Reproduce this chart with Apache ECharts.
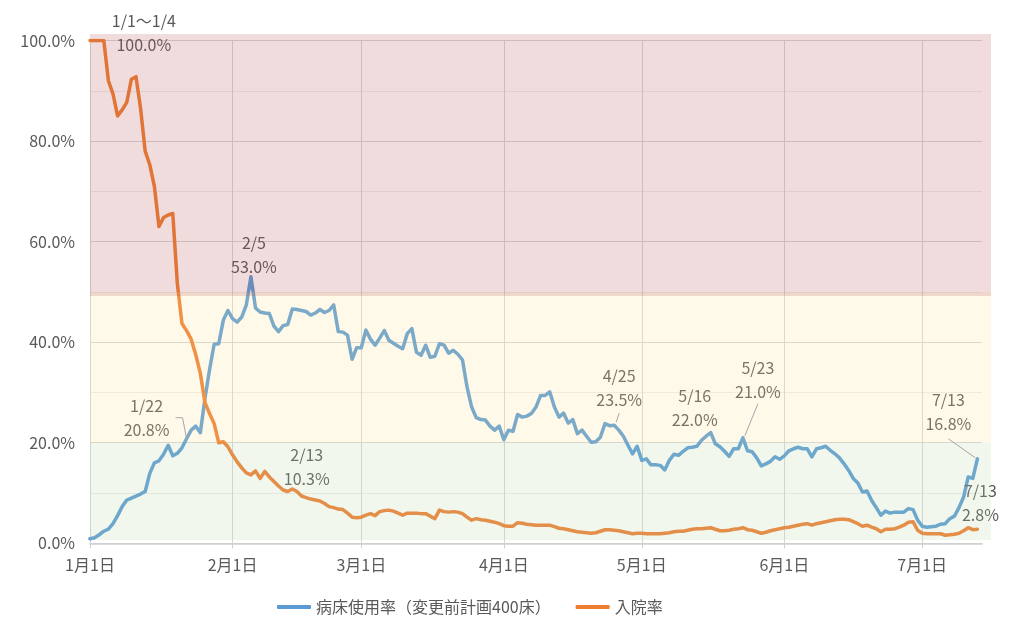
<!DOCTYPE html>
<html lang="ja">
<head>
<meta charset="utf-8">
<title>病床使用率・入院率</title>
<script src="https://cdn.jsdelivr.net/npm/echarts@6/dist/echarts.min.js"></script>
<style>
  html, body { margin: 0; padding: 0; background: #fff; }
  #chart { width: 1018px; height: 620px; }
</style>
</head>
<body>
<div id="chart"></div>
<script>
(function () {
  // categories: 1月1日 .. 7月14日 (one per day)
  const MONTH_DAYS = [31, 28, 31, 30, 31, 30, 14]
  const dates = []
  MONTH_DAYS.forEach((n, m) => {
    for (let d = 1; d <= n; d++) dates.push(`${m + 1}月${d}日`)
  })

  // 病床使用率（変更前計画400床）, % per day
  const bedJan = [0.9, 1.1, 1.7, 2.4, 2.8, 3.9, 5.5, 7.3, 8.6, 9.0, 9.4, 9.8, 10.3, 13.9, 16.0, 16.4,
    17.7, 19.5, 17.4, 17.9, 19.0, 20.8, 22.5, 23.3, 22.0, 28.8, 34.5, 39.6, 39.7, 44.4, 46.3]
  const bedFeb = [44.7, 44.0, 45.0, 47.4, 53.0, 46.8, 46.0, 45.8, 45.7, 43.2, 42.1, 43.3, 43.5, 46.6,
    46.5, 46.3, 46.1, 45.4, 45.8, 46.5, 45.9, 46.3, 47.4, 42.1, 42.0, 41.4, 36.6, 38.9]
  const bedMar = [38.9, 42.4, 40.6, 39.4, 40.8, 42.3, 40.4, 39.8, 39.2, 38.7, 41.7, 42.7, 38.0, 37.4,
    39.4, 37.0, 37.2, 39.7, 39.4, 37.8, 38.4, 37.6, 36.5, 31.1, 27.1, 25.0, 24.6, 24.5, 23.3, 22.5, 23.3]
  const bedApr = [20.6, 22.5, 22.3, 25.6, 25.1, 25.3, 25.8, 27.1, 29.4, 29.4, 30.1, 27.1, 25.1, 25.9,
    23.9, 24.6, 21.8, 22.5, 21.3, 20.1, 20.2, 21.1, 23.8, 23.4, 23.5, 22.5, 21.3, 19.5, 17.8, 19.3]
  const bedMay = [16.5, 16.8, 15.6, 15.6, 15.5, 14.6, 16.5, 17.7, 17.5, 18.3, 19.0, 19.1, 19.3, 20.5,
    21.3, 22.0, 19.8, 19.2, 18.3, 17.3, 18.8, 18.8, 21.0, 18.4, 18.2, 17.0, 15.4, 15.8, 16.3, 17.2, 16.7]
  const bedJun = [17.4, 18.4, 18.8, 19.1, 18.8, 18.8, 17.2, 18.8, 19.0, 19.3, 18.5, 17.8, 17.0, 15.8,
    14.5, 12.9, 12.0, 10.2, 10.4, 8.5, 7.1, 5.6, 6.4, 6.0, 6.2, 6.2, 6.2, 6.9, 6.7, 4.6]
  const bedJul = [3.4, 3.2, 3.3, 3.4, 3.8, 3.9, 4.9, 5.4, 7.1, 9.2, 13.2, 12.9, 16.8]

  // 入院率, % per day
  const admitJan = [100, 100, 100, 100, 92.0, 89.4, 85.0, 86.2, 87.7, 92.3, 92.8, 86.5, 78.0, 75.3,
    71.0, 63.0, 64.8, 65.3, 65.6, 51.6, 43.7, 42.3, 40.6, 37.5, 33.8, 28.0, 25.8, 23.8, 20.0, 20.2, 19.2]
  const admitFeb = [17.6, 16.2, 15.0, 14.0, 13.6, 14.4, 12.9, 14.3, 13.2, 12.3, 11.4, 10.6, 10.3, 10.8,
    10.3, 9.4, 9.1, 8.8, 8.6, 8.4, 7.9, 7.3, 7.1, 6.8, 6.7, 6.0, 5.2, 5.1]
  const admitMar = [5.2, 5.6, 5.9, 5.5, 6.3, 6.5, 6.6, 6.4, 6.0, 5.6, 6.0, 6.0, 6.0, 5.9, 5.9, 5.4,
    4.9, 6.6, 6.3, 6.2, 6.3, 6.2, 5.9, 5.2, 4.6, 4.9, 4.7, 4.6, 4.4, 4.2, 3.9]
  const admitApr = [3.5, 3.4, 3.4, 4.1, 4.0, 3.8, 3.7, 3.6, 3.6, 3.6, 3.6, 3.3, 3.0, 2.9, 2.7, 2.5,
    2.3, 2.2, 2.1, 2.0, 2.1, 2.4, 2.7, 2.7, 2.6, 2.5, 2.3, 2.1, 1.9, 2.0]
  const admitMay = [2.0, 1.9, 1.9, 1.9, 1.9, 2.0, 2.1, 2.3, 2.4, 2.4, 2.6, 2.8, 2.9, 2.9, 3.0, 3.1,
    2.8, 2.5, 2.5, 2.6, 2.8, 2.9, 3.1, 2.7, 2.6, 2.3, 2.0, 2.2, 2.5, 2.7, 2.9]
  const admitJun = [3.1, 3.2, 3.4, 3.6, 3.8, 3.9, 3.6, 3.9, 4.1, 4.3, 4.5, 4.7, 4.8, 4.8, 4.7, 4.3,
    3.9, 3.4, 3.6, 3.2, 2.9, 2.3, 2.8, 2.8, 2.9, 3.2, 3.6, 4.2, 4.3, 2.6]
  const admitJul = [2.0, 1.9, 1.9, 1.9, 1.9, 1.6, 1.7, 1.8, 2.0, 2.5, 3.1, 2.7, 2.8]

  const bedRate = [].concat(bedJan, bedFeb, bedMar, bedApr, bedMay, bedJun, bedJul)
  const admitRate = [].concat(admitJan, admitFeb, admitMar, admitApr, admitMay, admitJun, admitJul)

  const seriesNames = ['病床使用率（変更前計画400床）', '入院率']

  // y axis ticks and alert bands (%)
  const yMax = 100
  const yStep = 20
  const bandGreenTop = 20
  const bandYellowTop = 50
  const bandRedBottom = 49.2

  // data labels: series index, date, text
  const notes = [
    { series: 1, date: '1月4日', text: '1/1〜1/4\n100.0%' },
    { series: 0, date: '1月22日', text: '1/22\n20.8%' },
    { series: 0, date: '2月5日', text: '2/5\n53.0%' },
    { series: 1, date: '2月13日', text: '2/13\n10.3%' },
    { series: 0, date: '4月25日', text: '4/25\n23.5%' },
    { series: 0, date: '5月16日', text: '5/16\n22.0%' },
    { series: 0, date: '5月23日', text: '5/23\n21.0%' },
    { series: 0, date: '7月13日', text: '7/13\n16.8%' },
    { series: 1, date: '7月13日', text: '7/13\n2.8%' }
  ]
  // label offsets from the point (px), and leader line points relative to the point
  const noteLayout = [
    { dx: 40, dy: -8 },
    { dx: -40, dy: -21, leader: [[-11, -21], [-4, -21], [0, 0]] },
    { dx: 3, dy: -22 },
    { dx: 19, dy: -25 },
    { dx: 5, dy: -37, leader: [[5, -12], [2, -3]] },
    { dx: -16, dy: -25 },
    { dx: 15, dy: -58, leader: [[15, -34], [2, -2]] },
    { dx: -29, dy: -47, leader: [[-29, -20], [-2, -1]] },
    { dx: 3, dy: -26 }
  ]

  const FONT = "'Noto Sans CJK JP', 'Noto Sans', sans-serif"
  const TEXT_COLOR = '#595959'
  const BLUE = '#5b9bd5'
  const ORANGE = '#ed7d31'
  const seriesValues = [bedRate, admitRate]

  function findNote(seriesIndex, dataIndex) {
    return notes.findIndex((n) => n.series === seriesIndex && dates.indexOf(n.date) === dataIndex)
  }

  function withNotes(values, seriesIndex) {
    return values.map((v, i) => {
      const k = findNote(seriesIndex, i)
      if (k < 0) {
        return v
      }
      return {
        value: v,
        label: { show: true, formatter: notes[k].text }
      }
    })
  }

  const isMonthStart = (index, value) => /月1日$/.test(value)

  function lineSeries(name, values, seriesIndex, color) {
    return {
      name,
      type: 'line',
      xAxisIndex: 0,
      yAxisIndex: 0,
      data: withNotes(values, seriesIndex),
      symbol: 'circle',
      symbolSize: 0,
      showSymbol: true,
      showAllSymbol: true,
      z: 2,
      lineStyle: { color, width: 3.5, cap: 'round', join: 'round' },
      itemStyle: { color },
      label: {
        show: false,
        position: 'inside',
        fontFamily: FONT,
        fontSize: 16,
        lineHeight: 24,
        color: TEXT_COLOR,
        align: 'center'
      },
      labelLayout: (params) => {
        const k = findNote(params.seriesIndex, params.dataIndex)
        if (k < 0) {
          return {}
        }
        return { dx: noteLayout[k].dx, dy: noteLayout[k].dy }
      }
    }
  }

  const chart = echarts.init(document.getElementById('chart'))

  chart.setOption({
    animation: false,
    backgroundColor: '#fff',
    textStyle: { fontFamily: FONT },
    grid: [
      { left: 90, right: 36, top: 40.5, bottom: 76.7 },
      { left: 90, right: 27, top: 34, bottom: 80 }
    ],
    legend: {
      data: seriesNames,
      left: 272,
      top: 594,
      icon: 'roundRect',
      itemWidth: 34,
      itemHeight: 4,
      itemGap: 25,
      textStyle: { fontFamily: FONT, fontSize: 16, color: TEXT_COLOR }
    },
    xAxis: [
      {
        type: 'category',
        gridIndex: 0,
        data: dates,
        boundaryGap: false,
        axisLine: { lineStyle: { color: '#d0d0d0', width: 1.5 } },
        axisTick: {
          show: true,
          interval: isMonthStart,
          length: 5,
          lineStyle: { color: '#d0d0d0' }
        },
        axisLabel: {
          interval: isMonthStart,
          margin: 14,
          fontFamily: FONT,
          fontSize: 16,
          color: TEXT_COLOR
        },
        splitLine: {
          show: true,
          interval: isMonthStart,
          lineStyle: { color: '#d6d6d6', width: 1 }
        }
      },
      { type: 'value', gridIndex: 1, min: 0, max: 1, show: false }
    ],
    yAxis: [
      {
        type: 'value',
        gridIndex: 0,
        min: 0,
        max: yMax,
        interval: yStep,
        axisLine: { show: false },
        axisTick: { show: false },
        axisLabel: {
          margin: 15,
          fontFamily: FONT,
          fontSize: 16,
          color: TEXT_COLOR,
          formatter: (v) => v.toFixed(1) + '%'
        },
        splitLine: { lineStyle: { color: '#d6d6d6', width: 1 } },
        minorTick: { show: false, splitNumber: 2 },
        minorSplitLine: { show: true, lineStyle: { color: '#ededed', width: 1 } }
      },
      { type: 'value', gridIndex: 1, min: 0.66, max: 101.3, show: false }
    ],
    series: [
      lineSeries(seriesNames[0], bedRate, 0, BLUE),
      lineSeries(seriesNames[1], admitRate, 1, ORANGE),
      {
        // translucent alert bands laid over the lines
        type: 'line',
        xAxisIndex: 1,
        yAxisIndex: 1,
        data: [],
        silent: true,
        z: 5,
        markArea: {
          silent: true,
          z: 10,
          data: [
            [{ xAxis: 0, yAxis: 0.66, itemStyle: { color: 'rgba(190,215,170,0.2)' } }, { xAxis: 1, yAxis: bandGreenTop }],
            [{ xAxis: 0, yAxis: bandGreenTop, itemStyle: { color: 'rgba(255,225,150,0.2)' } }, { xAxis: 1, yAxis: bandYellowTop }],
            [{ xAxis: 0, yAxis: bandRedBottom, itemStyle: { color: 'rgba(180,80,80,0.2)' } }, { xAxis: 1, yAxis: 101.3 }]
          ]
        }
      }
    ]
  })

  // leader lines from the labels to their points, placed through the axis scales
  const leaders = []
  notes.forEach((note, k) => {
    const layout = noteLayout[k]
    if (!layout.leader) {
      return
    }
    const value = seriesValues[note.series][dates.indexOf(note.date)]
    const p = chart.convertToPixel({ seriesIndex: note.series }, [note.date, value])
    leaders.push({
      type: 'polyline',
      z: 20,
      silent: true,
      shape: { points: layout.leader.map(([dx, dy]) => [p[0] + dx, p[1] + dy]) },
      style: { stroke: '#a6a6a6', lineWidth: 1, fill: null }
    })
  })
  chart.setOption({ graphic: leaders })

  window.addEventListener('resize', () => chart.resize())
})()
</script>
</body>
</html>
